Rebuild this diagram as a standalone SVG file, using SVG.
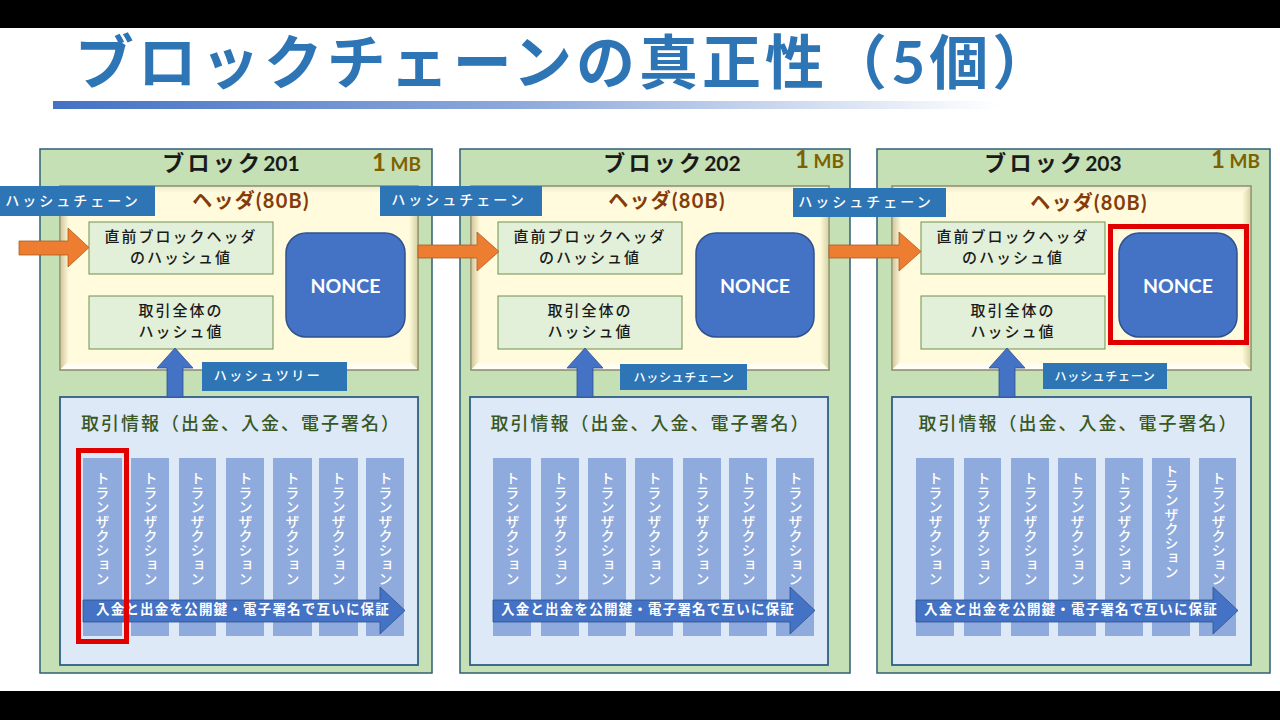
<svg xmlns="http://www.w3.org/2000/svg" width="1280" height="720" viewBox="0 0 1280 720">
<style>
text{font-family:"Lato","Noto Sans CJK JP","Noto Sans",sans-serif;text-anchor:middle}
.block{fill:#c5e0b4;stroke:#2f5f75;stroke-width:1.5}
.hdr{fill:#fffbdc;stroke:#8a8a68;stroke-width:1.5}
.box{fill:#e2f0d9;stroke:#6f8f4f;stroke-width:1}
.nonce{fill:#4472c4;stroke:#2f528f;stroke-width:1.5}
.panel{fill:#dde9f6;stroke:#2f5f85;stroke-width:1.8}
.col{fill:#8faadc}
.lab{fill:#2e75b6}
.red{fill:none;stroke:#e00000;stroke-width:5}
.oa{fill:#ed7d31;stroke:#ae5a21;stroke-width:.8}
.ua{fill:#4472c4;stroke:#2f528f;stroke-width:.8}
.ta{fill:#4472c4;stroke:#2f528f;stroke-width:.8}
.bt{font-size:22px;font-weight:700;fill:#1a1a1a;letter-spacing:3.2px}
.dg{letter-spacing:0;font-size:21px}
.mb{font-size:19px;font-weight:700;fill:#7f6000;text-anchor:start}
.mb1{font-size:24px}
.ht{font-size:20px;font-weight:700;fill:#843c0c;letter-spacing:1.3px}
.bx{font-size:15px;font-weight:500;fill:#1a1a1a;letter-spacing:2px}
.nt{font-size:19.5px;font-weight:700;fill:#fff}
.lt{font-size:14px;font-weight:500;fill:#fff;letter-spacing:3px}
.ls{font-size:12px;font-weight:500;fill:#fff;letter-spacing:.7px}
.ls2{font-size:13px;font-weight:500;fill:#fff;letter-spacing:2.5px}
.pt{font-size:18px;font-weight:500;fill:#385723;letter-spacing:2px}
.tx{font-size:14px;font-weight:500;fill:#fff;writing-mode:vertical-rl;text-anchor:start;letter-spacing:.4px}
.at{font-size:13.5px;font-weight:700;fill:#fff;letter-spacing:1.2px}
.bl{fill:url(#bevL)}.bu{fill:url(#bevT)}.bd{fill:url(#bevB)}.br{fill:url(#bevR)}
</style>
<defs>
<linearGradient id="bar"><stop offset="0" stop-color="#4472c4"/><stop offset=".5" stop-color="#8faadc"/><stop offset="1" stop-color="#ffffff"/></linearGradient>
<linearGradient id="bevL"><stop offset="0" stop-color="#d8c9a0"/><stop offset="1" stop-color="#fffbdc"/></linearGradient>
<linearGradient id="bevR"><stop offset="0" stop-color="#fffbdc"/><stop offset="1" stop-color="#d9d6a8"/></linearGradient>
<linearGradient id="bevT" x2="0" y2="1"><stop offset="0" stop-color="#f0ecd0"/><stop offset="1" stop-color="#fffbdc"/></linearGradient>
<linearGradient id="bevB" x2="0" y2="1"><stop offset="0" stop-color="#fffbdc"/><stop offset="1" stop-color="#ffffff"/></linearGradient>
</defs>
<rect width="1280" height="720" fill="#fff"/>
<rect width="1280" height="28" fill="#000"/>
<rect y="691" width="1280" height="29" fill="#000"/>
<g id="title">
<text x="565" y="84" fill="#2e75b6" letter-spacing="4" style="font-size:59px;font-weight:700">ブロックチェーンの真正性（5個）</text>
<rect x="53" y="101" width="947" height="8" fill="url(#bar)"/>
</g>

<g id="block201">
<rect class="block" x="40" y="149" width="392" height="524"/>
<text class="bt" x="231" y="171">ブロック<tspan class="dg">201</tspan></text>
<text class="mb" x="372" y="171"><tspan class="mb1">1</tspan> MB</text>
<g id="header201">
<rect class="hdr" x="60" y="186" width="358" height="184"/>
<polygon class="bu" points="61,187 417,187 409,193 69,193"/><polygon class="bl" points="61,187 69,193 69,361 61,369"/><polygon class="br" points="417,187 409,193 409,361 417,369"/><polygon class="bd" points="61,369 69,361 409,361 417,369"/>
<text class="ht" x="251" y="208">ヘッダ(80B)</text>
</g>
<g id="prev201"><rect class="box" x="89" y="222" width="184" height="52"/><text class="bx" x="181" y="242">直前ブロックヘッダ</text><text class="bx" x="181" y="263">のハッシュ値</text></g>
<g id="root201"><rect class="box" x="89" y="296" width="184" height="53"/><text class="bx" x="181" y="316">取引全体の</text><text class="bx" x="181" y="337">ハッシュ値</text></g>
<g id="nonce201"><rect class="nonce" x="286" y="233" width="119" height="104" rx="20"/><text class="nt" x="345.500" y="293">NONCE</text></g>
<g id="tx201">
<rect class="panel" x="60" y="397" width="358" height="268"/>
<text class="pt" x="241" y="430">取引情報（出金、入金、電子署名）</text>
<rect class="col" x="83" y="458" width="39" height="178"/><rect class="col" x="131" y="458" width="38" height="178"/><rect class="col" x="179" y="458" width="37" height="178"/><rect class="col" x="226" y="458" width="38" height="178"/><rect class="col" x="273" y="458" width="39" height="178"/><rect class="col" x="319" y="458" width="39" height="178"/><rect class="col" x="366" y="458" width="38" height="178"/>
<text class="tx" x="102" y="471">トランザクション</text><text class="tx" x="150" y="471">トランザクション</text><text class="tx" x="197" y="471">トランザクション</text><text class="tx" x="245" y="471">トランザクション</text><text class="tx" x="292" y="471">トランザクション</text><text class="tx" x="338" y="471">トランザクション</text><text class="tx" x="385" y="471">トランザクション</text>
</g>
</g>

<g id="block202">
<rect class="block" x="460" y="149" width="390" height="524"/>
<text class="bt" x="672" y="171">ブロック<tspan class="dg">202</tspan></text>
<text class="mb" x="795" y="168"><tspan class="mb1">1</tspan> MB</text>
<g id="header202">
<rect class="hdr" x="471" y="186" width="358" height="184"/>
<polygon class="bu" points="472,187 828,187 820,193 480,193"/><polygon class="bl" points="472,187 480,193 480,361 472,369"/><polygon class="br" points="828,187 820,193 820,361 828,369"/><polygon class="bd" points="472,369 480,361 820,361 828,369"/>
<text class="ht" x="667" y="208">ヘッダ(80B)</text>
</g>
<g id="prev202"><rect class="box" x="498" y="222" width="184" height="52"/><text class="bx" x="590" y="242">直前ブロックヘッダ</text><text class="bx" x="590" y="263">のハッシュ値</text></g>
<g id="root202"><rect class="box" x="498" y="296" width="184" height="53"/><text class="bx" x="590" y="316">取引全体の</text><text class="bx" x="590" y="337">ハッシュ値</text></g>
<g id="nonce202"><rect class="nonce" x="696" y="233" width="118" height="104" rx="20"/><text class="nt" x="755" y="293">NONCE</text></g>
<g id="tx202">
<rect class="panel" x="470" y="397" width="358" height="268"/>
<text class="pt" x="650.500" y="430">取引情報（出金、入金、電子署名）</text>
<rect class="col" x="493" y="458" width="38" height="178"/><rect class="col" x="541" y="458" width="38" height="178"/><rect class="col" x="588" y="458" width="38" height="178"/><rect class="col" x="635" y="458" width="38" height="178"/><rect class="col" x="683" y="458" width="38" height="178"/><rect class="col" x="729" y="458" width="38" height="178"/><rect class="col" x="776" y="458" width="38" height="178"/>
<text class="tx" x="512" y="471">トランザクション</text><text class="tx" x="560" y="471">トランザクション</text><text class="tx" x="607" y="471">トランザクション</text><text class="tx" x="654" y="471">トランザクション</text><text class="tx" x="702" y="471">トランザクション</text><text class="tx" x="748" y="471">トランザクション</text><text class="tx" x="795" y="471">トランザクション</text>
</g>
</g>

<g id="block203">
<rect class="block" x="877" y="149" width="393" height="524"/>
<text class="bt" x="1053" y="171">ブロック<tspan class="dg">203</tspan></text>
<text class="mb" x="1211" y="168"><tspan class="mb1">1</tspan> MB</text>
<g id="header203">
<rect class="hdr" x="892" y="186" width="359" height="184"/>
<polygon class="bu" points="893,187 1250,187 1242,193 901,193"/><polygon class="bl" points="893,187 901,193 901,361 893,369"/><polygon class="br" points="1250,187 1242,193 1242,361 1250,369"/><polygon class="bd" points="893,369 901,361 1242,361 1250,369"/>
<text class="ht" x="1089" y="210">ヘッダ(80B)</text>
</g>
<g id="prev203"><rect class="box" x="921" y="222" width="184" height="52"/><text class="bx" x="1013" y="242">直前ブロックヘッダ</text><text class="bx" x="1013" y="263">のハッシュ値</text></g>
<g id="root203"><rect class="box" x="921" y="296" width="184" height="53"/><text class="bx" x="1013" y="316">取引全体の</text><text class="bx" x="1013" y="337">ハッシュ値</text></g>
<g id="nonce203"><rect class="nonce" x="1119" y="233" width="118" height="104" rx="20"/><text class="nt" x="1178" y="293">NONCE</text></g>
<g id="tx203">
<rect class="panel" x="892" y="397" width="359" height="268"/>
<text class="pt" x="1078.500" y="430">取引情報（出金、入金、電子署名）</text>
<rect class="col" x="916" y="458" width="38" height="178"/><rect class="col" x="964" y="458" width="37" height="178"/><rect class="col" x="1011" y="458" width="38" height="178"/><rect class="col" x="1058" y="458" width="38" height="178"/><rect class="col" x="1105" y="458" width="38" height="178"/><rect class="col" x="1152" y="458" width="38" height="178"/><rect class="col" x="1199" y="458" width="37" height="178"/>
<text class="tx" x="935" y="471">トランザクション</text><text class="tx" x="983" y="471">トランザクション</text><text class="tx" x="1030" y="471">トランザクション</text><text class="tx" x="1077" y="471">トランザクション</text><text class="tx" x="1124" y="471">トランザクション</text><text class="tx" x="1171" y="464">トランザクション</text><text class="tx" x="1218" y="471">トランザクション</text>
</g>
</g>

<g id="connectors">
<polygon class="oa" points="19,241 68,241 68,228 89,247.500 68,267 68,255 19,255"/>
<polygon class="oa" points="418,245 477,245 477,232 499,251.500 477,271 477,258 418,258"/>
<polygon class="oa" points="829,245 899,245 899,232 921,251.500 899,271 899,258 829,258"/>
<polygon class="ua" points="175,348 193,368 183,368 183,397 167,397 167,368 157,368"/>
<polygon class="ua" points="585,348 603,368 593,368 593,397 577,397 577,368 567,368"/>
<polygon class="ua" points="1007,348 1025,368 1015,368 1015,397 999,397 999,368 989,368"/>
<polygon class="ta" points="83,600 380,600 380,587 405,610.500 380,634 380,622 83,622"/>
<polygon class="ta" points="493,600 790,600 790,587 815,610.500 790,634 790,622 493,622"/>
<polygon class="ta" points="916,600 1213,600 1213,587 1238,610.500 1213,634 1213,622 916,622"/>
</g>

<g id="arrow-labels">
<text class="at" x="243" y="614">入金と出金を公開鍵・電子署名で互いに保証</text>
<text class="at" x="648" y="614">入金と出金を公開鍵・電子署名で互いに保証</text>
<text class="at" x="1071" y="614">入金と出金を公開鍵・電子署名で互いに保証</text>
</g>

<g id="hash-chain-1"><rect class="lab" x="0" y="186" width="155" height="30"/><text class="lt" x="73" y="206">ハッシュチェーン</text></g>
<g id="hash-chain-2"><rect class="lab" x="380" y="186" width="162" height="30"/><text class="lt" x="459" y="205">ハッシュチェーン</text></g>
<g id="hash-chain-3"><rect class="lab" x="793" y="188" width="153" height="29"/><text class="lt" x="866" y="207">ハッシュチェーン</text></g>
<g id="hash-tree"><rect class="lab" x="202" y="362" width="145" height="29"/><text class="ls2" x="268" y="380">ハッシュツリー</text></g>
<g id="hash-chain-4"><rect class="lab" x="620" y="364" width="127" height="26"/><text class="ls" x="684" y="382">ハッシュチェーン</text></g>
<g id="hash-chain-5"><rect class="lab" x="1043" y="363" width="124" height="26"/><text class="ls" x="1105" y="381">ハッシュチェーン</text></g>

<rect id="red-tx" class="red" x="78.500" y="450.500" width="48" height="191"/>
<rect id="red-nonce" class="red" x="1110.500" y="226.500" width="136" height="116"/>
</svg>
